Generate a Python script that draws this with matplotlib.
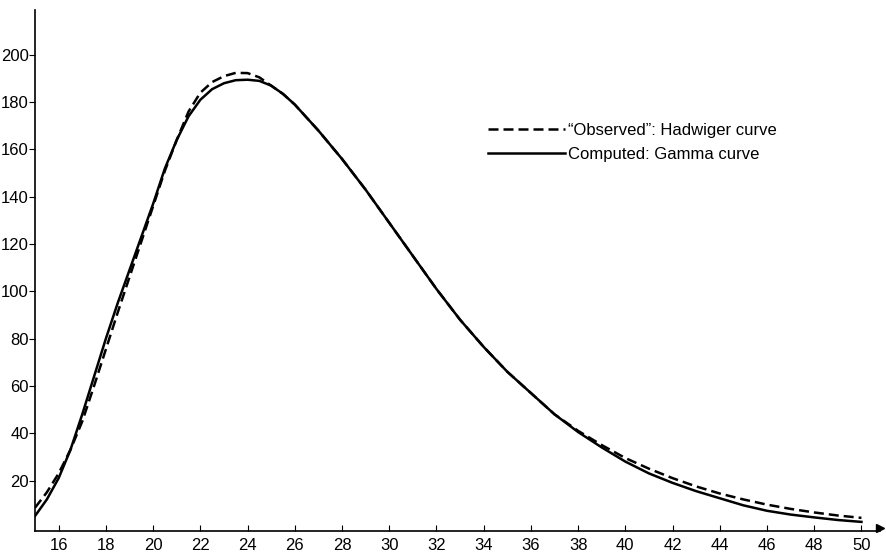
#!/usr/bin/env python3

from matplotlib import pyplot as plt

plt.rcParams['font.family'] = ['Liberation Sans', 'DejaVu Sans']

age = [15, 15.5, 16, 16.5, 17, 17.5, 18, 18.5, 19, 19.5, 20, 20.5, 21, 21.5,
       22, 22.5, 23, 23.5, 24, 24.5, 25, 25.5, 26, 27, 28, 29, 30, 31, 32, 33,
       34, 35, 36, 37, 38, 39, 40, 41, 42, 43, 44, 45, 46, 47, 48, 49, 50]

# "observed" fertility rates (Hadwiger curve)
hadwiger = [8.5, 15, 23, 33, 45, 60, 75.5, 91, 106, 121, 136, 151, 164, 176,
            184, 188.5, 191, 192.4, 192.3, 190.5, 187, 183.5, 179, 168, 156,
            143, 129, 115, 101, 88, 76.5, 66, 57, 48, 41, 35, 29.5, 25, 21,
            17.5, 14.5, 12, 9.8, 8, 6.5, 5.2, 4.2]

# computed gamma curve
gamma = [5, 12, 21, 33, 48, 64, 80, 95, 109, 123, 137, 152, 164, 174,
         181, 185.5, 188, 189.3, 189.5, 189, 187, 183.5, 179, 168, 156,
         143, 129, 115, 101, 88, 76.5, 66, 57, 48, 40.5, 34, 28, 23, 19,
         15.5, 12.5, 9.5, 7.2, 5.6, 4.4, 3.3, 2.5]

x_ticks = list(range(16, 51, 2))
y_ticks = list(range(20, 201, 20))


def plot_curves():
    fig = plt.figure(figsize=(8.87, 5.53), dpi=100)
    ax = fig.add_axes([0.0395, 0.040, 0.953, 0.942])

    ax.plot(age, hadwiger, 'k', lw=1.8, dashes=(4, 2),
            label='\u201cObserved\u201d: Hadwiger curve')
    ax.plot(age, gamma, 'k', lw=1.8, label='Computed: Gamma curve')

    ax.set_xlim(15, 50.8)
    ax.set_ylim(-1.3, 219)
    ax.set_xticks(x_ticks)
    ax.set_yticks(y_ticks)

    for side in ('top', 'right'):
        ax.spines[side].set_visible(False)
    for side in ('left', 'bottom'):
        ax.spines[side].set_linewidth(1.2)

    # arrow heads on the axes
    ax.plot(1, 0, '>k', ms=6, transform=ax.get_yaxis_transform(), clip_on=False)
    ax.plot(0, 1, '^k', ms=6, transform=ax.get_xaxis_transform(), clip_on=False)

    ax.tick_params(axis='x', direction='in', length=4, labelsize=12, pad=5)
    ax.tick_params(axis='y', direction='out', length=4, labelsize=12, pad=0.5)

    ax.legend(loc='upper left', bbox_to_anchor=(0.518, 0.812), frameon=False,
              fontsize=12, handlelength=4.6, handletextpad=0.2,
              labelspacing=0.55)

    fig.savefig('out.png', dpi=100)


if __name__ == '__main__':
    plot_curves()
